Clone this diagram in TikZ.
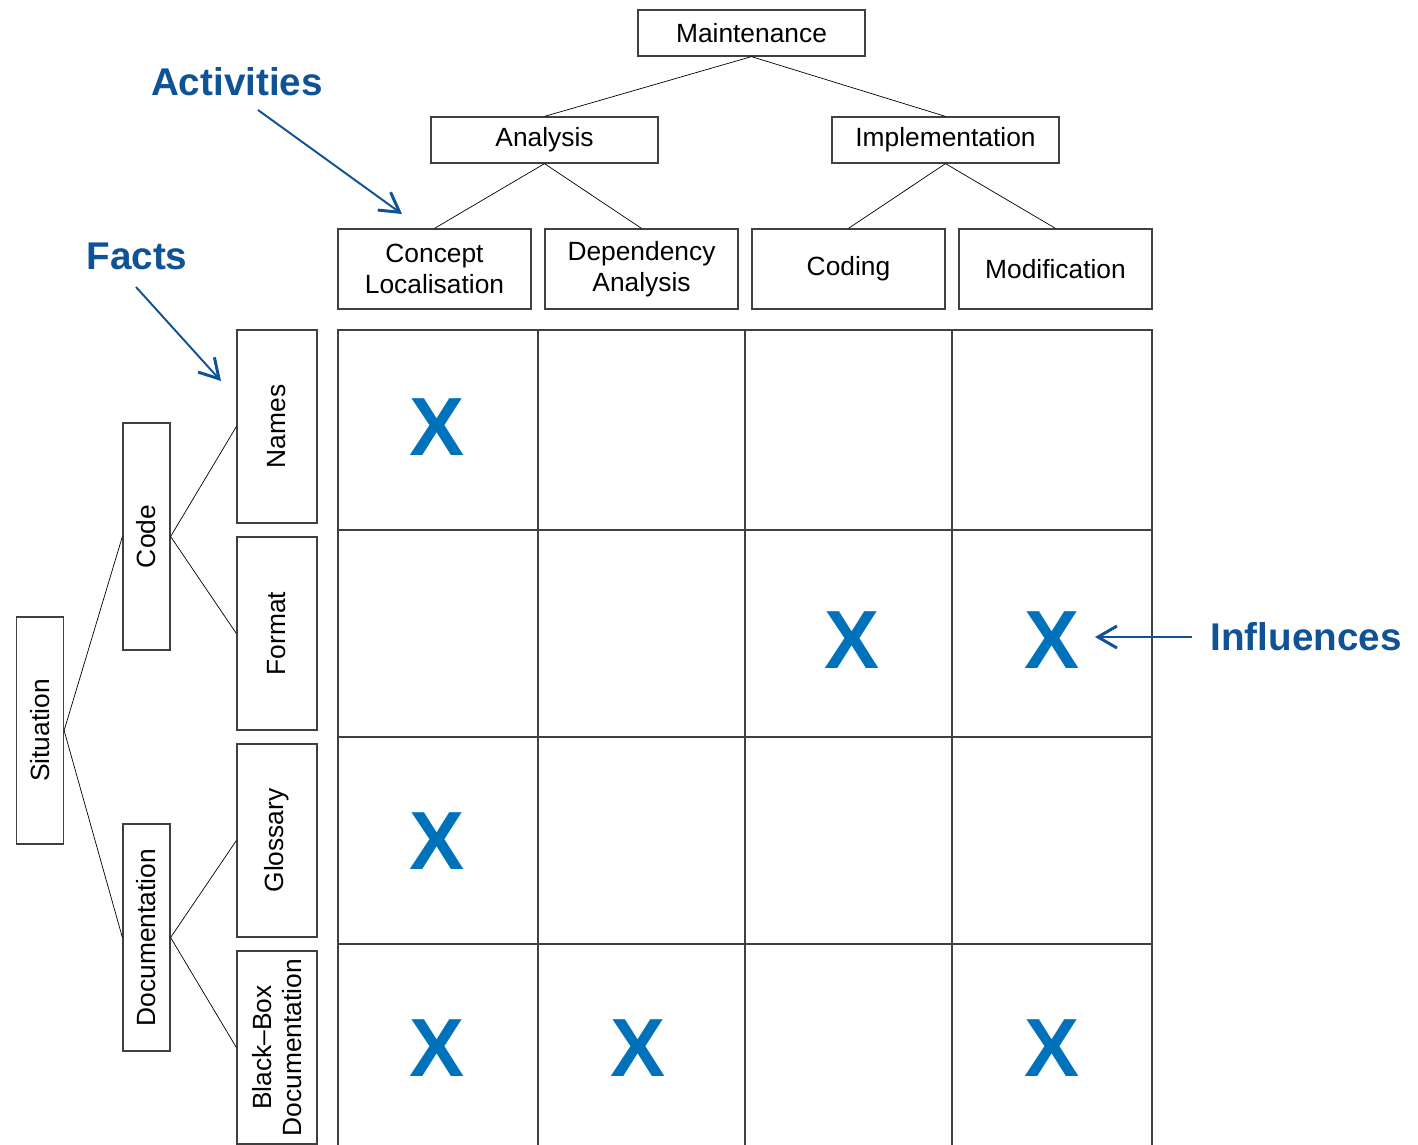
\documentclass[tikz,border=0pt]{standalone}
\usepackage{fontspec}
\setmainfont{Liberation Sans}
\usetikzlibrary{arrows.meta}
\definecolor{labelblue}{RGB}{16,82,150}
\definecolor{markblue}{RGB}{0,114,188}
\definecolor{gridgray}{RGB}{64,64,64}
\begin{document}
\begin{tikzpicture}[x=0.02cm,y=-0.02cm]
	\tikzstyle{box}=[draw=gridgray, line width=0.7pt, inner sep=0pt, align=center, font=\fontsize{15}{17.5}\selectfont]
	\tikzstyle{actbox}=[box, minimum width=4.54cm, minimum height=0.92cm]
	\tikzstyle{leafbox}=[box, minimum width=3.86cm, minimum height=1.6cm]
	\tikzstyle{vbox}=[box, rotate=90, minimum width=4.54cm, minimum height=0.94cm]
	\tikzstyle{factbox}=[box, rotate=90, minimum width=3.86cm, minimum height=1.6cm]
	\tikzstyle{tag}=[text=labelblue, font=\fontsize{22}{24}\selectfont\bfseries]
	\tikzstyle{pointer}=[draw=labelblue, line width=1.1pt, -{Straight Barb[length=3.8mm,width=4.4mm,line width=1.7pt]}]
	\tikzstyle{xmark}=[text=markblue, font=\fontsize{47}{47}\selectfont\bfseries, inner sep=0pt]
	\useasboundingbox (0,0) rectangle (1418,1144);

	% activities
	\node[actbox] (maint) at (751.5,33) {Maintenance};
	\node[actbox] (ana) at (544.5,140) {Analysis};
	\node[actbox] (impl) at (945.5,140) {Implementation};
	\node[leafbox] (concept) at (434.5,269) {Concept\\Localisation};
	\node[leafbox] (depend) at (641.5,269) {Dependency\\Analysis};
	\node[leafbox] (coding) at (848.5,269) {Coding};
	\node[leafbox] (modif) at (1055.5,269) {Modification};

	\draw (maint.south) -- (ana.north);
	\draw (maint.south) -- (impl.north);
	\draw (ana.south) -- (concept.north);
	\draw (ana.south) -- (depend.north);
	\draw (impl.south) -- (coding.north);
	\draw (impl.south) -- (modif.north);

	% situation / facts
	\node[vbox] (sit) at (40,730.5) {Situation};
	\node[vbox] (code) at (146.5,536.5) {Code};
	\node[vbox] (doc) at (146.5,937.5) {Documentation};
	\node[factbox] (names) at (277,426.5) {Names};
	\node[factbox] (format) at (277,633.5) {Format};
	\node[factbox] (gloss) at (277,840.5) {Glossary};
	\node[factbox] (bbox) at (277,1047.5) {Black--Box\\Documentation};

	\draw (sit.south) -- (code.north);
	\draw (sit.south) -- (doc.north);
	\draw (code.south) -- (names.north);
	\draw (code.south) -- (format.north);
	\draw (doc.south) -- (gloss.north);
	\draw (doc.south) -- (bbox.north);

	% matrix
	\draw[gridgray, line width=0.9pt] (338,1160) -- (338,330) -- (1152,330) -- (1152,1160);
	\foreach \x in {538,745,952}
		\draw[gridgray, line width=0.9pt] (\x,330) -- (\x,1160);
	\foreach \y in {530,737,944}
		\draw[gridgray, line width=0.9pt] (338,\y) -- (1152,\y);

	\node[xmark] (m11) at (437,427) {X};
	\node[xmark] (m23) at (852,640) {X};
	\node[xmark] (m24) at (1052,640) {X};
	\node[xmark] (m31) at (437,841) {X};
	\node[xmark] (m41) at (437,1048) {X};
	\node[xmark] (m42) at (638,1048) {X};
	\node[xmark] (m44) at (1052,1048) {X};

	% labels
	\node[tag] (activities) at (237,82) {Activities};
	\node[tag] (facts) at (137,256) {Facts};
	\node[tag] (influences) at (1306,637) {Influences};
	\coordinate (actstart) at (258,110);
	\coordinate (actend) at (402,214);
	\coordinate (factstart) at (136,287);
	\coordinate (factend) at (221,381);
	\coordinate (inflstart) at (1192,637);
	\coordinate (inflend) at (1095,637);
	\draw[pointer] (actstart) -- (actend);
	\draw[pointer] (factstart) -- (factend);
	\draw[pointer] (inflstart) -- (inflend);
\end{tikzpicture}
\end{document}
